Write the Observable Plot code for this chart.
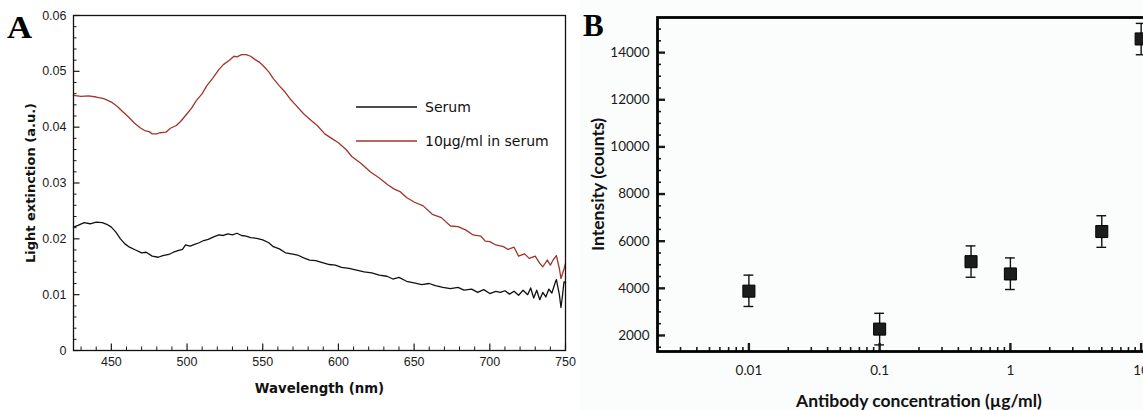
<!DOCTYPE html>
<html>
<head>
<meta charset="utf-8">
<script src="https://cdn.jsdelivr.net/npm/d3@7"></script>
<script src="https://cdn.jsdelivr.net/npm/@observablehq/plot@0.6"></script>
<style>
  html, body { margin: 0; padding: 0; background: #fff; overflow: hidden; }
  #wrap { position: relative; width: 1143px; height: 410px; overflow: hidden; }
  #left { position: absolute; left: 0; top: 0; width: 580px; }
  #right { position: absolute; left: 580px; top: 0; width: 610px; }
  #left svg, #right svg { max-width: none !important; display: block; }
  .plab { position: absolute; font-family: "Liberation Serif", serif; font-weight: bold; font-size: 31px; line-height: 1; }
  #legend { position: absolute; left: 0; top: 0; pointer-events: none; }
</style>
</head>
<body>
<div id="wrap">
  <div id="left"></div>
  <div id="right"></div>
  <svg id="legend" width="580" height="410"></svg>
  <div class="plab" style="left:7px;top:12px;transform:scaleX(1.12);transform-origin:left top;">A</div>
  <div class="plab" style="left:583px;top:10px;">B</div>
</div>
<script>
// ---------- Panel A data ----------
const seriesNames = ["Serum", "10µg/ml in serum"];
const seriesColors = ["#111111", "#a0352c"];

const redWl  = [425, 430, 435, 440, 445, 450, 454, 457, 461, 465, 469, 472, 475, 477, 480, 482, 486, 489, 493, 496, 500, 503, 506, 510, 513, 517, 521, 524, 528, 531, 533, 536, 539, 542, 545, 548, 550, 554, 557, 561, 565, 568, 572, 577, 582, 586, 591, 596, 600, 605, 609, 615, 621, 627, 633, 637, 641, 645, 650, 656, 662, 668, 674, 679, 684, 689, 694, 697, 700, 704, 709, 712, 716, 719, 723, 726, 730, 733, 735, 738, 740, 742, 744, 746, 747, 749, 750];
const redVal = [0.0457, 0.0455, 0.0456, 0.0454, 0.0451, 0.0445, 0.0437, 0.0429, 0.0419, 0.0408, 0.0399, 0.0394, 0.0392, 0.0388, 0.0388, 0.0390, 0.0391, 0.0398, 0.0403, 0.0411, 0.0424, 0.0434, 0.0447, 0.0460, 0.0474, 0.0488, 0.0503, 0.0512, 0.0520, 0.0527, 0.0526, 0.0530, 0.0530, 0.0527, 0.0521, 0.0516, 0.0511, 0.0499, 0.0487, 0.0474, 0.0462, 0.0451, 0.0439, 0.0424, 0.0412, 0.0403, 0.0388, 0.0379, 0.0372, 0.0360, 0.0347, 0.0335, 0.0320, 0.0309, 0.0296, 0.0289, 0.0284, 0.0274, 0.0266, 0.0259, 0.0244, 0.0238, 0.0223, 0.0222, 0.0216, 0.0207, 0.0205, 0.0196, 0.0195, 0.0189, 0.0186, 0.0181, 0.0185, 0.0169, 0.0173, 0.0165, 0.0169, 0.0156, 0.0150, 0.0162, 0.0153, 0.0163, 0.0170, 0.0146, 0.0129, 0.0146, 0.0156];

const serumWl  = [425, 428, 432, 436, 440, 444, 447, 450, 453, 456, 459, 462, 466, 470, 473, 477, 481, 484, 488, 491, 494, 497, 499, 502, 505, 508, 511, 514, 518, 521, 524, 527, 530, 533, 536, 539, 542, 546, 550, 554, 557, 561, 565, 569, 573, 577, 581, 585, 590, 594, 598, 602, 607, 612, 617, 622, 627, 632, 636, 640, 645, 650, 655, 660, 664, 669, 674, 679, 683, 688, 692, 696, 700, 704, 707, 710, 713, 716, 719, 722, 725, 727, 729, 731, 733, 735, 737, 739, 741, 743, 744, 746, 747, 748, 749, 750];
const serumVal = [0.0221, 0.0224, 0.0229, 0.0227, 0.0230, 0.0229, 0.0226, 0.0221, 0.0212, 0.0200, 0.0191, 0.0185, 0.0180, 0.0175, 0.0176, 0.0169, 0.0167, 0.0170, 0.0172, 0.0176, 0.0179, 0.0181, 0.0189, 0.0187, 0.0190, 0.0193, 0.0197, 0.0199, 0.0204, 0.0207, 0.0206, 0.0209, 0.0207, 0.0210, 0.0206, 0.0205, 0.0202, 0.0201, 0.0198, 0.0193, 0.0186, 0.0182, 0.0175, 0.0173, 0.0171, 0.0166, 0.0162, 0.0161, 0.0157, 0.0154, 0.0153, 0.0149, 0.0147, 0.0144, 0.0141, 0.0139, 0.0135, 0.0133, 0.0128, 0.0131, 0.0124, 0.0121, 0.0118, 0.0120, 0.0116, 0.0113, 0.0111, 0.0113, 0.0108, 0.0110, 0.0104, 0.0109, 0.0102, 0.0106, 0.0104, 0.0107, 0.0101, 0.0106, 0.0099, 0.0108, 0.0100, 0.0112, 0.0094, 0.0108, 0.0091, 0.0104, 0.0096, 0.0110, 0.0103, 0.0120, 0.0127, 0.0099, 0.0077, 0.0098, 0.0123, 0.0121];

const aXMajor = [450, 500, 550, 600, 650, 700, 750];
const aXMinor = [430, 440, 460, 470, 480, 490, 510, 520, 530, 540, 560, 570, 580, 590, 610, 620, 630, 640, 660, 670, 680, 690, 710, 720, 730, 740];
const aYMajor = [0, 0.01, 0.02, 0.03, 0.04, 0.05, 0.06];
const aYMinor = [0.002, 0.004, 0.006, 0.008, 0.012, 0.014, 0.016, 0.018, 0.022, 0.024, 0.026, 0.028, 0.032, 0.034, 0.036, 0.038, 0.042, 0.044, 0.046, 0.048, 0.052, 0.054, 0.056, 0.058];

// ---------- Panel B data ----------
const concentrations = [0.01, 0.1, 0.5, 1, 5, 10];
const intensities    = [3880, 2270, 5130, 4610, 6410, 14580];
const errLow         = [3230, 1600, 4470, 3950, 5740, 13910];
const errHigh        = [4560, 2940, 5800, 5290, 7080, 15240];

const bXMajor = [0.01, 0.1, 1, 10];
const bXMinor = [0.003, 0.004, 0.005, 0.006, 0.007, 0.008, 0.009, 0.02, 0.03, 0.04, 0.05, 0.06, 0.07, 0.08, 0.09, 0.2, 0.3, 0.4, 0.5, 0.6, 0.7, 0.8, 0.9, 2, 3, 4, 5, 6, 7, 8, 9];
const bYMajor = [2000, 4000, 6000, 8000, 10000, 12000, 14000];
const bYMinor = [1500, 2500, 3000, 3500, 4500, 5000, 5500, 6500, 7000, 7500, 8500, 9000, 9500, 10500, 11000, 11500, 12500, 13000, 13500, 14500, 15000];

// ---------- Build tables ----------
const redData = redWl.map((w, i) => ({wl: w, v: redVal[i]}));
const serumData = serumWl.map((w, i) => ({wl: w, v: serumVal[i]}));
const points = concentrations.map((c, i) => ({c, y: intensities[i], lo: errLow[i], hi: errHigh[i]}));

const fontA = "'Liberation Sans', Arial, sans-serif";
const fontATitle = "'DejaVu Sans', sans-serif";
const fontB = "Lato, 'Open Sans', sans-serif";

const plotA = Plot.plot({
  width: 580, height: 410,
  marginLeft: 73, marginRight: 15, marginTop: 15, marginBottom: 60,
  x: {domain: [425, 750]},
  y: {domain: [0, 0.06]},
  style: {fontFamily: fontA, fontSize: "12.5px", color: "#1a1a1a", background: "transparent", overflow: "visible"},
  marks: [
    Plot.line(serumData, {x: "wl", y: "v", stroke: seriesColors[0], strokeWidth: 1.3}),
    Plot.line(redData, {x: "wl", y: "v", stroke: seriesColors[1], strokeWidth: 1.3}),
    Plot.axisX(aXMinor, {tickSize: -3.5, text: null, label: null, strokeWidth: 1}),
    Plot.axisX(aXMajor, {tickSize: -6.5, text: null, label: null, strokeWidth: 1.2}),
    Plot.axisX(aXMajor, {tickSize: 0, tickPadding: 7, label: null, tickFormat: d => String(d)}),
    Plot.axisY(aYMinor, {tickSize: -3.5, text: null, label: null, strokeWidth: 1}),
    Plot.axisY(aYMajor, {tickSize: -6.5, text: null, label: null, strokeWidth: 1.2}),
    Plot.axisY(aYMajor, {tickSize: 0, tickPadding: 7, label: null, tickFormat: d => d === 0 ? "0" : d.toFixed(2)}),
    Plot.frame({stroke: "#111", strokeWidth: 1.3}),
    Plot.text(["Wavelength (nm)"], {frameAnchor: "bottom", dy: 38, textAnchor: "middle", lineAnchor: "middle", fontWeight: "bold", fontSize: 13.3, fontFamily: fontATitle, fill: "#111"}),
    Plot.text(["Light extinction (a.u.)"], {frameAnchor: "left", dx: -43, rotate: -90, textAnchor: "middle", lineAnchor: "middle", fontWeight: "bold", fontSize: 13, fontFamily: fontATitle, fill: "#111"})
  ]
});
document.getElementById("left").appendChild(plotA);

const plotB = Plot.plot({
  width: 610, height: 410,
  marginLeft: 77, marginRight: 10, marginTop: 17, marginBottom: 59,
  x: {type: "log", domain: [0.002, 20]},
  y: {domain: [1320, 15490]},
  style: {fontFamily: fontB, fontSize: "13.5px", color: "#1a1a1a", background: "#fbfcfc", overflow: "visible"},
  marks: [
    Plot.axisX(bXMinor, {tickSize: -4, text: null, label: null, strokeWidth: 1.6}),
    Plot.axisX(bXMajor, {tickSize: -8, text: null, label: null, strokeWidth: 2.4}),
    Plot.axisX(bXMajor, {tickSize: 0, tickPadding: 14, label: null, tickFormat: d => String(d)}),
    Plot.axisY(bYMinor, {tickSize: -4, text: null, label: null, strokeWidth: 1.6}),
    Plot.axisY(bYMajor, {tickSize: -8, text: null, label: null, strokeWidth: 2.4}),
    Plot.axisY(bYMajor, {tickSize: 0, tickPadding: 8, label: null, tickFormat: d => String(d)}),
    Plot.ruleX(points, {x: "c", y1: "lo", y2: "hi", stroke: "#111", strokeWidth: 1.4}),
    Plot.ruleY(points, {y: "lo", x1: d => d.c / 1.09, x2: d => d.c * 1.09, stroke: "#111", strokeWidth: 1.4}),
    Plot.ruleY(points, {y: "hi", x1: d => d.c / 1.09, x2: d => d.c * 1.09, stroke: "#111", strokeWidth: 1.4}),
    Plot.dot(points, {x: "c", y: "y", symbol: "square", r: 6.8, fill: "#1c1c1c", stroke: "#000", strokeWidth: 1}),
    Plot.frame({stroke: "#000", strokeWidth: 2.8}),
    Plot.text(["Antibody concentration (µg/ml)"], {frameAnchor: "bottom", dy: 50, textAnchor: "middle", lineAnchor: "middle", fontWeight: "bold", fontSize: 17.5, fontFamily: fontB, fill: "#111"}),
    Plot.text(["Intensity (counts)"], {frameAnchor: "left", dx: -59, rotate: -90, textAnchor: "middle", lineAnchor: "middle", fontWeight: "bold", fontSize: 17.5, fontFamily: fontB, fill: "#111"})
  ]
});
document.getElementById("right").appendChild(plotB);

// ---------- Legend for panel A ----------
const legend = d3.select("#legend");
const legendRows = seriesNames.map((name, i) => ({name, color: seriesColors[i], row: i}));
const lg = legend.selectAll("g").data(legendRows).join("g")
  .attr("transform", d => `translate(356, ${107 + d.row * 34})`);
lg.append("line").attr("x1", 0).attr("x2", 61).attr("y1", 0).attr("y2", 0)
  .attr("stroke", d => d.color).attr("stroke-width", 1.6);
lg.append("text").attr("x", 69).attr("y", 0).attr("dy", "0.35em")
  .attr("font-family", "'DejaVu Sans', sans-serif").attr("font-size", 14).attr("fill", "#111")
  .text(d => d.name);
</script>
</body>
</html>
